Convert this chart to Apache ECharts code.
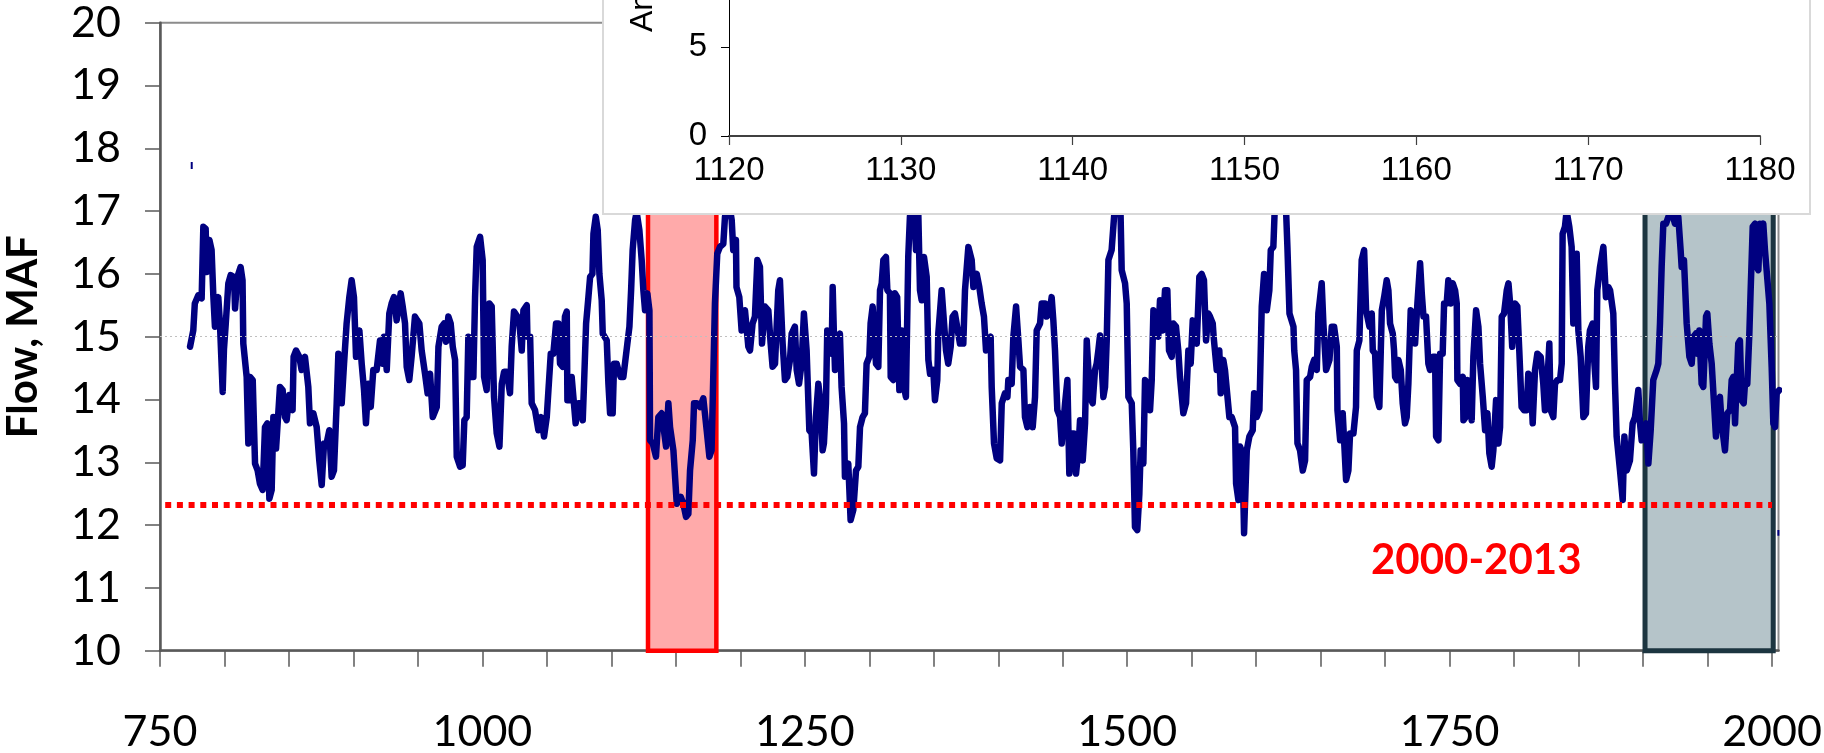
<!DOCTYPE html>
<html>
<head>
<meta charset="utf-8">
<script src="https://cdn.jsdelivr.net/npm/echarts@6.0.0/dist/echarts.min.js"></script>
<style>
html,body{margin:0;padding:0;background:#fff;}
#chart{width:1824px;height:753px;}
</style>
</head>
<body>
<div id="chart"></div>
<script>
// ---- main axis ticks / labels ----
const xTickYears = [750,800,850,900,950,1000,1050,1100,1150,1200,1250,1300,1350,1400,1450,1500,1550,1600,1650,1700,1750,1800,1850,1900,1950,2000];
const xLabelYears = [750,1000,1250,1500,1750,2000];
const insetTickYears = [1120,1130,1140,1150,1160,1170,1180];

// ---- reference levels & highlighted periods ----
const drought2000_2013 = 12.33;   // red dotted line
const meanLine = 15;              // faint gray dotted line
const redPeriod = [1128.4, 1181.4];
const grayPeriod = [1901.5, 2000.9];
const periodLabel = '2000-2013';

// ---- flow series [year, MAF] ----
const flowA = [[773.3,14.84],[775.8,15.10],[777.0,15.53],[779.7,15.66],[782.3,15.61],[783.6,16.75],[785.4,16.72],[786.2,16.03],[788.3,16.54],[790.0,16.38],[791.4,15.63],[792.6,15.16],[795.2,15.63],[796.5,15.20],[798.6,14.12],[799.6,14.80],[801.0,15.21],[803.0,15.85],[804.8,15.98],[807.4,15.95],[808.2,15.45],[810.0,15.95],[812.5,16.11],[814.0,15.90],[814.6,14.89],[817.2,14.36],[818.5,13.30],[819.8,14.36],[821.9,14.31],[823.7,12.98],[825.7,12.87],[827.5,12.66],[829.6,12.56],[831.4,13.56],[833.2,13.62],[834.8,12.42],[836.6,12.56],[837.9,13.72],[840.0,13.22],[843.0,14.20],[845.1,14.15],[846.9,13.72],[848.2,13.67],[850.3,14.07],[852.8,13.83],[853.6,14.68],[855.5,14.78],[858.0,14.68],[859.8,14.47],[862.4,14.68],[865.0,14.20],[866.3,13.62],[868.9,13.78],[871.5,13.56],[873.5,13.03],[875.4,12.64],[877.2,13.30],[879.2,13.30],[881.3,13.51],[883.1,12.77],[884.9,12.87],[887.0,13.94],[888.3,14.73],[890.9,13.94],[892.7,14.57],[894.7,15.21],[896.8,15.63],[898.6,15.90],[900.4,15.63],[902.0,14.68],[904.6,15.10],[906.4,14.57],[908.2,14.15],[909.7,13.62],[911.5,14.25],[913.4,13.88],[915.4,14.47],[918.0,14.47],[920.6,14.94],[922.7,14.57],[923.7,15.00],[925.8,14.47],[927.8,15.37],[929.6,15.53],[931.4,15.63],[933.5,15.26],[936.6,15.69],[938.2,15.48],[940.0,15.21],[941.3,14.52],[943.3,14.31],[945.1,14.68],[947.7,15.32],[949.5,15.26],[951.1,15.21],[952.9,14.78],[955.5,14.41],[957.5,14.10],[959.4,14.41]];
const flowB = [[961.5,13.72],[964.6,13.88],[965.9,14.84],[968.4,15.16],[970.3,15.21],[971.8,14.92],[973.6,15.32],[975.4,15.21],[977.0,14.84],[978.8,14.63],[980.1,13.09],[982.7,12.93],[984.7,12.95],[986.0,13.67],[987.8,13.72],[989.1,15.00],[990.9,14.36],[993.0,14.36],[994.3,15.63],[995.6,16.43],[998.2,16.59],[1000.2,16.22],[1001.3,14.36],[1003.3,14.15],[1005.4,15.53],[1007.2,15.48],[1009.0,14.04],[1011.1,13.46],[1013.2,13.25],[1015.0,14.25],[1016.8,14.44],[1018.8,14.44],[1021.4,14.10],[1022.7,14.84],[1024.5,15.40],[1027.1,15.32],[1028.7,15.21],[1030.5,14.78],[1031.8,15.42],[1034.4,15.50],[1034.9,15.00],[1037.0,15.00],[1038.2,13.94],[1040.8,13.83],[1043.4,13.51],[1045.5,13.72],[1047.8,13.41],[1049.9,13.72],[1051.2,14.15],[1053.0,14.73],[1055.0,14.73],[1057.1,15.21],[1058.9,15.21],[1060.2,14.57],[1062.3,14.52],[1064.0,15.32],[1065.4,15.40],[1065.9,13.99],[1068.0,13.99],[1069.2,14.36],[1072.3,13.62],[1074.4,13.94],[1076.0,13.94],[1077.8,13.67],[1078.8,14.25],[1080.4,15.21],[1082.2,15.63],[1083.5,15.95],[1085.3,16.00],[1086.1,16.64],[1087.9,16.91],[1089.4,16.70],[1090.7,16.00],[1092.5,15.58],[1093.3,15.05],[1096.4,14.94],[1097.7,14.25],[1099.0,13.78],[1101.0,13.78],[1102.1,14.57],[1104.1,14.57],[1105.4,14.47],[1107.2,14.36],[1109.3,14.36],[1112.4,14.89],[1114.0,15.16],[1115.3,15.74],[1116.5,16.38],[1118.4,16.86],[1119.6,16.98],[1121.7,16.70],[1123.5,16.22],[1124.8,15.74],[1126.1,15.42],[1127.9,15.69],[1129.5,15.42],[1130.0,13.35],[1132.1,13.30],[1134.6,13.09],[1136.4,13.72],[1139.0,13.78],[1142.4,13.25],[1144.2,13.94],[1145.5,13.56],[1148.1,13.19],[1150.7,12.34],[1153.8,12.45],[1155.8,12.34],[1157.9,12.13],[1159.7,12.18],[1161.0,12.87],[1163.1,13.35],[1164.1,13.94],[1166.2,13.94],[1168.8,13.88],[1171.3,14.02]];
const flowC = [[1173.9,13.51],[1176.0,13.09],[1177.7,13.19],[1180.3,15.53],[1182.1,16.32],[1184.2,16.43],[1186.8,16.48],[1188.1,16.91],[1190.7,17.20],[1193.3,16.86],[1194.5,16.38],[1196.6,16.54],[1197.0,15.79],[1199.2,15.63],[1201.0,15.10],[1203.6,15.42],[1206.2,14.84],[1207.5,14.78],[1209.5,15.21],[1211.3,15.32],[1213.2,16.22],[1215.2,16.11],[1216.8,14.89],[1219.1,15.48],[1221.7,15.42],[1223.5,14.89],[1225.0,14.52],[1226.9,14.57],[1229.4,15.74],[1230.7,15.90],[1232.8,14.89],[1234.6,14.31],[1236.4,14.36],[1238.5,14.63],[1239.8,15.05],[1242.3,15.16],[1243.7,14.47],[1245.5,14.25],[1247.5,14.57],[1249.3,15.37],[1251.4,14.78],[1253.5,13.51],[1255.3,13.46],[1257.1,12.82],[1258.6,13.72],[1260.5,14.25],[1262.3,13.94],[1263.8,13.19],[1264.8,13.30],[1266.4,13.94],[1267.4,15.10],[1269.5,15.00],[1270.8,14.73],[1271.6,15.79],[1272.6,15.00],[1273.4,14.47],[1275.2,14.89],[1277.2,15.05],[1278.5,14.20],[1280.4,13.62],[1281.1,12.77],[1283.7,12.98],[1285.5,12.08],[1287.6,12.24],[1289.7,12.87],[1291.5,12.93],[1292.8,13.56],[1294.8,13.72],[1296.6,13.78],[1297.9,14.57],[1300.0,14.68],[1301.0,15.21],[1302.6,15.48],[1305.2,14.57],[1307.0,14.52],[1308.3,15.74],[1309.6,15.85],[1310.9,16.22],[1312.9,16.27],[1314.0,15.74],[1316.0,15.69],[1316.6,14.36],[1318.6,14.31],[1319.9,15.69],[1321.6,15.63],[1323.3,14.15],[1325.1,15.10],[1326.4,14.25],[1328.4,14.04],[1330.2,16.27],[1331.5,16.91],[1334.1,17.40],[1336.2,16.38],[1338.0,16.96],[1339.3,15.74],[1340.6,15.58],[1342.4,16.27],[1344.5,15.95],[1345.8,14.63],[1347.1,14.41],[1349.6,14.47],[1350.9,13.99],[1352.7,14.31],[1353.5,15.05],[1356.1,15.74],[1359.5,14.78],[1361.2,14.57],[1363.1,14.84],[1364.6,15.32],[1366.4,15.37],[1370.3,14.89],[1372.9,14.89],[1374.2,15.74],[1376.8,16.43],[1378.3,16.40]];
const flowD = [[1379.4,16.22],[1380.7,15.79],[1383.3,16.00],[1385.3,15.79],[1387.1,15.53],[1388.9,15.32],[1390.5,14.78],[1392.3,14.94],[1394.1,15.00],[1394.9,14.20],[1396.7,13.30],[1398.8,13.06],[1401.4,13.03],[1402.7,13.94],[1405.2,14.10],[1407.1,14.04],[1407.8,14.31],[1410.4,14.25],[1411.7,15.00],[1413.8,15.48],[1415.6,14.94],[1416.9,14.52],[1419.5,14.47],[1420.7,13.72],[1422.6,13.56],[1424.6,13.88],[1426.7,13.56],[1428.5,14.04],[1429.8,15.10],[1432.4,15.21],[1433.7,15.53],[1436.3,15.53],[1437.5,15.32],[1439.6,15.37],[1441.4,15.63],[1442.7,15.26],[1444.0,14.78],[1445.8,13.83],[1447.9,13.72],[1449.2,13.30],[1451.8,13.94],[1453.6,14.31],[1455.1,12.82],[1456.9,13.46],[1458.7,13.46],[1460.3,12.82],[1462.1,13.19],[1463.4,13.67],[1465.5,13.03],[1467.3,13.62],[1468.6,14.94],[1471.1,14.04],[1473.2,13.94],[1475.0,14.47],[1476.3,14.57],[1477.6,14.78],[1478.9,15.02],[1481.5,14.04],[1482.8,14.20],[1484.1,14.94],[1485.4,16.22],[1487.9,16.38],[1489.8,16.91],[1491.8,17.50],[1494.4,17.40],[1495.7,16.06],[1498.3,15.85],[1499.6,15.53],[1500.9,14.04],[1503.5,13.94],[1504.7,13.19],[1506.0,11.97],[1507.8,11.92],[1509.4,12.50],[1510.4,13.19],[1512.5,12.98],[1513.8,14.31],[1515.6,14.25],[1517.7,13.83],[1519.0,14.31],[1520.3,15.42],[1522.8,15.32],[1524.1,15.00],[1525.4,15.58],[1527.5,15.10],[1529.3,15.74],[1531.1,15.74],[1532.4,14.78],[1534.5,14.68],[1535.8,15.21],[1537.8,15.16],[1539.6,14.78],[1540.9,14.36],[1543.5,13.78],[1545.6,13.94],[1547.4,14.78],[1549.2,14.57],[1550.8,15.26],[1552.6,15.00],[1553.9,14.89],[1555.9,15.95],[1557.7,16.00],[1559.5,15.90],[1561.1,14.94],[1562.9,15.37],[1564.2,15.32],[1566.3,15.21],[1567.0,15.00],[1569.4,14.47],[1571.4,14.78],[1572.5,14.10],[1574.5,14.63],[1575.8,14.47],[1579.2,13.72],[1581.0,13.72],[1583.6,13.56],[1584.4,12.66],[1586.2,12.40]];
const flowE = [[1587.5,13.25],[1589.3,13.15],[1590.6,11.87],[1592.7,13.19],[1594.7,13.41],[1597.3,13.51],[1598.4,14.10],[1600.4,13.72],[1602.5,13.83],[1604.3,15.48],[1606.1,16.00],[1608.2,15.42],[1610.2,15.74],[1611.3,16.38],[1613.3,16.43],[1614.5,17.10],[1617.5,17.30],[1620.5,17.20],[1623.0,17.10],[1624.2,16.43],[1625.8,15.37],[1628.9,15.16],[1629.5,14.78],[1630.9,14.47],[1632.0,13.30],[1634.0,13.19],[1636.1,12.87],[1637.9,13.03],[1639.2,14.31],[1641.8,14.36],[1643.1,14.52],[1644.9,14.63],[1647.0,14.47],[1648.2,15.37],[1650.8,15.85],[1652.1,15.21],[1654.2,14.47],[1656.8,14.63],[1658.6,15.16],[1660.4,15.16],[1662.5,14.84],[1663.0,13.83],[1665.1,13.35],[1667.1,13.78],[1669.7,12.72],[1671.5,12.87],[1672.8,13.46],[1675.4,13.46],[1677.4,13.88],[1678.0,14.78],[1680.0,14.94],[1681.8,16.22],[1683.7,16.38],[1685.2,15.42],[1687.8,15.16],[1689.6,15.37],[1690.4,14.78],[1692.2,14.73],[1693.5,14.04],[1695.5,13.88],[1697.4,15.42],[1699.2,15.63],[1701.2,15.90],[1702.5,15.74],[1703.8,15.21],[1705.9,15.05],[1706.9,14.78],[1707.7,14.36],[1709.0,14.31],[1710.3,14.63],[1712.1,14.47],[1713.6,13.94],[1715.4,13.62],[1716.7,13.72],[1718.0,14.25],[1719.8,15.42],[1721.4,15.37],[1723.2,14.89],[1725.0,15.53],[1727.1,16.17],[1728.4,15.69],[1729.7,15.32],[1731.7,15.32],[1733.5,14.57],[1734.8,14.47],[1736.9,14.68],[1738.7,14.68],[1739.5,13.41],[1741.3,13.35],[1742.6,14.73],[1744.6,14.73],[1745.7,15.53],[1747.7,15.53],[1749.0,15.90],[1750.9,15.53],[1752.4,15.85],[1754.2,15.74],[1755.5,15.53],[1756.0,14.31],[1758.1,14.25],[1760.2,14.36],[1760.7,13.67],[1762.5,13.72],[1763.8,14.31],[1765.8,14.15],[1767.1,13.67],[1768.4,14.68],[1770.5,15.42],[1772.3,15.16],[1773.6,14.57],[1775.7,14.04],[1777.5,13.51],[1779.3,13.78],[1780.8,13.14],[1782.6,12.93],[1783.9,13.19],[1786.0,13.99],[1787.8,13.30],[1789.1,13.56],[1790.4,15.32],[1792.2,15.37],[1794.3,15.74],[1795.6,15.85]];
const flowF = [[1796.9,15.53],[1798.5,14.84],[1800.7,15.53],[1802.5,15.48],[1804.0,14.78],[1805.8,13.88],[1807.7,13.83],[1809.7,13.83],[1811.0,14.41],[1812.8,14.36],[1814.4,13.62],[1816.2,14.47],[1818.0,14.73],[1820.6,14.68],[1822.6,14.25],[1823.9,13.83],[1825.7,14.25],[1827.3,14.89],[1828.3,13.83],[1830.4,13.72],[1831.7,14.25],[1833.5,14.31],[1835.6,14.31],[1836.9,14.57],[1837.6,16.64],[1839.4,16.75],[1840.7,17.00],[1842.8,16.75],[1844.6,16.43],[1845.9,15.21],[1848.5,16.32],[1849.8,15.10],[1851.6,14.68],[1853.7,13.72],[1855.7,13.78],[1857.5,14.84],[1858.8,15.10],[1860.9,15.21],[1861.9,14.68],[1863.5,14.20],[1864.5,15.74],[1866.6,16.11],[1869.2,16.43],[1871.2,15.63],[1873.1,15.79],[1874.4,15.74],[1876.9,15.37],[1878.2,14.25],[1879.5,13.41],[1882.1,12.87],[1884.2,12.40],[1885.5,13.41],[1887.3,12.87],[1889.8,13.03],[1891.9,13.62],[1893.7,13.72],[1896.3,14.15],[1897.6,13.62],[1898.9,13.35],[1902.3,13.62],[1904.1,12.98],[1905.9,13.51],[1907.9,14.31],[1910.5,14.47],[1911.8,14.57],[1913.1,15.21],[1914.4,16.11],[1915.7,16.80],[1917.8,16.80],[1919.6,16.91],[1922.1,17.00],[1924.7,16.80],[1927.3,16.91],[1929.1,16.38],[1929.9,16.11],[1931.7,16.22],[1933.8,15.21],[1935.9,14.68],[1937.7,14.57],[1939.0,15.00],[1941.0,15.05],[1942.1,14.73],[1943.6,15.10],[1945.4,14.25],[1946.7,14.20],[1948.8,15.32],[1949.8,15.37],[1951.4,14.89],[1953.2,14.57],[1955.0,13.94],[1956.5,13.41],[1958.3,13.99],[1959.6,14.04],[1960.9,13.62],[1963.5,13.19],[1965.3,13.78],[1967.4,13.83],[1968.7,14.31],[1970.0,14.36],[1971.3,13.62],[1972.5,14.25],[1973.8,14.89],[1975.1,14.94],[1976.4,13.99],[1978.0,13.94],[1979.0,14.25],[1980.8,14.25],[1982.4,15.05],[1983.4,15.74],[1985.0,16.75],[1986.8,16.80],[1988.1,16.11],[1989.4,16.06],[1990.7,16.80],[1991.9,16.70],[1993.2,16.80],[1994.5,16.38],[1995.8,16.38],[1997.9,15.53],[1999.7,14.52],[2001.0,13.62],[2002.3,13.56],[2003.6,14.10],[2005.6,14.15]];
// two tiny stray marks visible in the original
const strayStart = [[774.6,17.78],[774.6,17.67]];
const strayEnd = [[2004.9,11.92],[2004.9,11.83]];

const flowSeries = flowA.concat(flowB, flowC, flowD, flowE, flowF);

const chart = echarts.init(document.getElementById('chart'), null, {renderer: 'canvas'});
const AX = '#595959';
const plain = v => String(v);
const option = {
  animation: false,
  backgroundColor: '#ffffff',
  grid: [
    {left: 160, top: 22.7, width: 1618.5, height: 628, show: true, borderColor: '#8c8c8c', borderWidth: 2,
      backgroundColor: 'transparent', containLabel: false, outerBoundsMode: 'none'},
    {left: 729, top: -42, width: 1031, height: 178, show: false, containLabel: false, outerBoundsMode: 'none'}
  ],
  xAxis: [
    {
      type: 'value', gridIndex: 0, min: 750, max: 2005,
      axisLine: {show: true, lineStyle: {color: AX, width: 2.5}},
      axisTick: {show: true, customValues: xTickYears, length: 16, lineStyle: {color: AX, width: 1.5}},
      axisLabel: {customValues: xLabelYears, formatter: plain, fontFamily: 'Lato', fontSize: 43, color: '#000', margin: 60},
      splitLine: {show: false}
    },
    {
      type: 'value', gridIndex: 1, min: 1120, max: 1180, interval: 10, z: 110,
      axisLine: {show: true, lineStyle: {color: '#404040', width: 2}},
      axisTick: {show: true, length: 9, lineStyle: {color: '#404040', width: 1.2}},
      axisLabel: {customValues: insetTickYears, formatter: plain, fontFamily: 'Liberation Sans Narrow, Liberation Sans', fontSize: 33, color: '#000', margin: 18},
      splitLine: {show: false}
    }
  ],
  yAxis: [
    {
      type: 'value', gridIndex: 0, min: 10, max: 20, interval: 1,
      name: 'Flow, MAF', nameLocation: 'middle', nameRotate: 90, nameGap: 116,
      nameTextStyle: {fontFamily: 'Lato', fontWeight: 'bold', fontSize: 42, color: '#000'},
      axisLine: {show: true, lineStyle: {color: AX, width: 2.5}},
      axisTick: {show: true, length: 15, lineStyle: {color: AX, width: 1.5}},
      axisLabel: {formatter: plain, fontFamily: 'Lato', fontSize: 43, color: '#000', margin: 39, padding: [10, 0, 0, 0]},
      splitLine: {show: false}
    },
    {
      type: 'value', gridIndex: 1, min: 0, max: 10, interval: 5, z: 110,
      axisLine: {show: true, lineStyle: {color: '#000', width: 1}},
      axisTick: {show: true, length: 8, lineStyle: {color: '#000', width: 1}},
      axisLabel: {formatter: plain, fontFamily: 'Liberation Sans Narrow, Liberation Sans', fontSize: 33, color: '#000', margin: 22},
      splitLine: {show: false}
    }
  ],
  series: [
    {
      name: 'redPeriod', type: 'line', xAxisIndex: 0, yAxisIndex: 0, data: [], z: 1, silent: true,
      markArea: {silent: true, itemStyle: {color: '#FFAAAA', borderColor: '#FF0000', borderWidth: 4.5},
        data: [[{xAxis: redPeriod[0], yAxis: 10}, {xAxis: redPeriod[1], yAxis: 20}]]}
    },
    {
      name: 'levels', type: 'line', xAxisIndex: 0, yAxisIndex: 0, data: [], z: 1.5, silent: true,
      markLine: {silent: true, symbol: ['none', 'none'], label: {show: false},
        data: [
          [{coord: [750, meanLine], lineStyle: {color: '#BFBFBF', width: 1, type: [2, 3]}}, {coord: [2005, meanLine]}],
          [{coord: [750, drought2000_2013], lineStyle: {color: '#FF0000', width: 6, type: [6, 5.7], dashOffset: 6.5}}, {coord: [2000, drought2000_2013]}]
        ]}
    },
    {
      name: 'flow', type: 'line', xAxisIndex: 0, yAxisIndex: 0, data: flowSeries, z: 2,
      showSymbol: false, symbol: 'none', silent: true, sampling: 'none',
      lineStyle: {color: '#000080', width: 6.5, join: 'round', cap: 'round'}
    },
    {
      name: 'strayStart', type: 'line', data: strayStart, z: 2, showSymbol: false, symbol: 'none', silent: true,
      lineStyle: {color: '#000080', width: 2}
    },
    {
      name: 'strayEnd', type: 'line', data: strayEnd, z: 2, showSymbol: false, symbol: 'none', silent: true,
      lineStyle: {color: '#000080', width: 2}
    },
    {
      name: 'grayPeriod', type: 'line', xAxisIndex: 0, yAxisIndex: 0, data: [], z: 3, silent: true,
      markArea: {silent: true, itemStyle: {color: 'rgba(43,86,100,0.35)', borderColor: '#1C3540', borderWidth: 5},
        data: [[{xAxis: grayPeriod[0], yAxis: 10}, {xAxis: grayPeriod[1], yAxis: 20}]]}
    }
  ],
  graphic: [
    {type: 'text', left: 1476 - 105, top: 564 - 25, z: 5,
      style: {text: periodLabel, fill: '#FF0000', font: 'bold 42px Lato'}},
    {type: 'rect', z: 100, shape: {x: 603, y: -10, width: 1207, height: 224},
      style: {fill: '#ffffff', stroke: '#D9D9D9', lineWidth: 2}},
    {type: 'text', z: 120, x: 643, y: 32, rotation: Math.PI / 2,
      style: {text: 'Annual Flow, MAF', fill: '#000', font: '32px Liberation Sans', textAlign: 'left', textVerticalAlign: 'middle'}}
  ]
};
chart.setOption(option);
</script>
</body>
</html>
